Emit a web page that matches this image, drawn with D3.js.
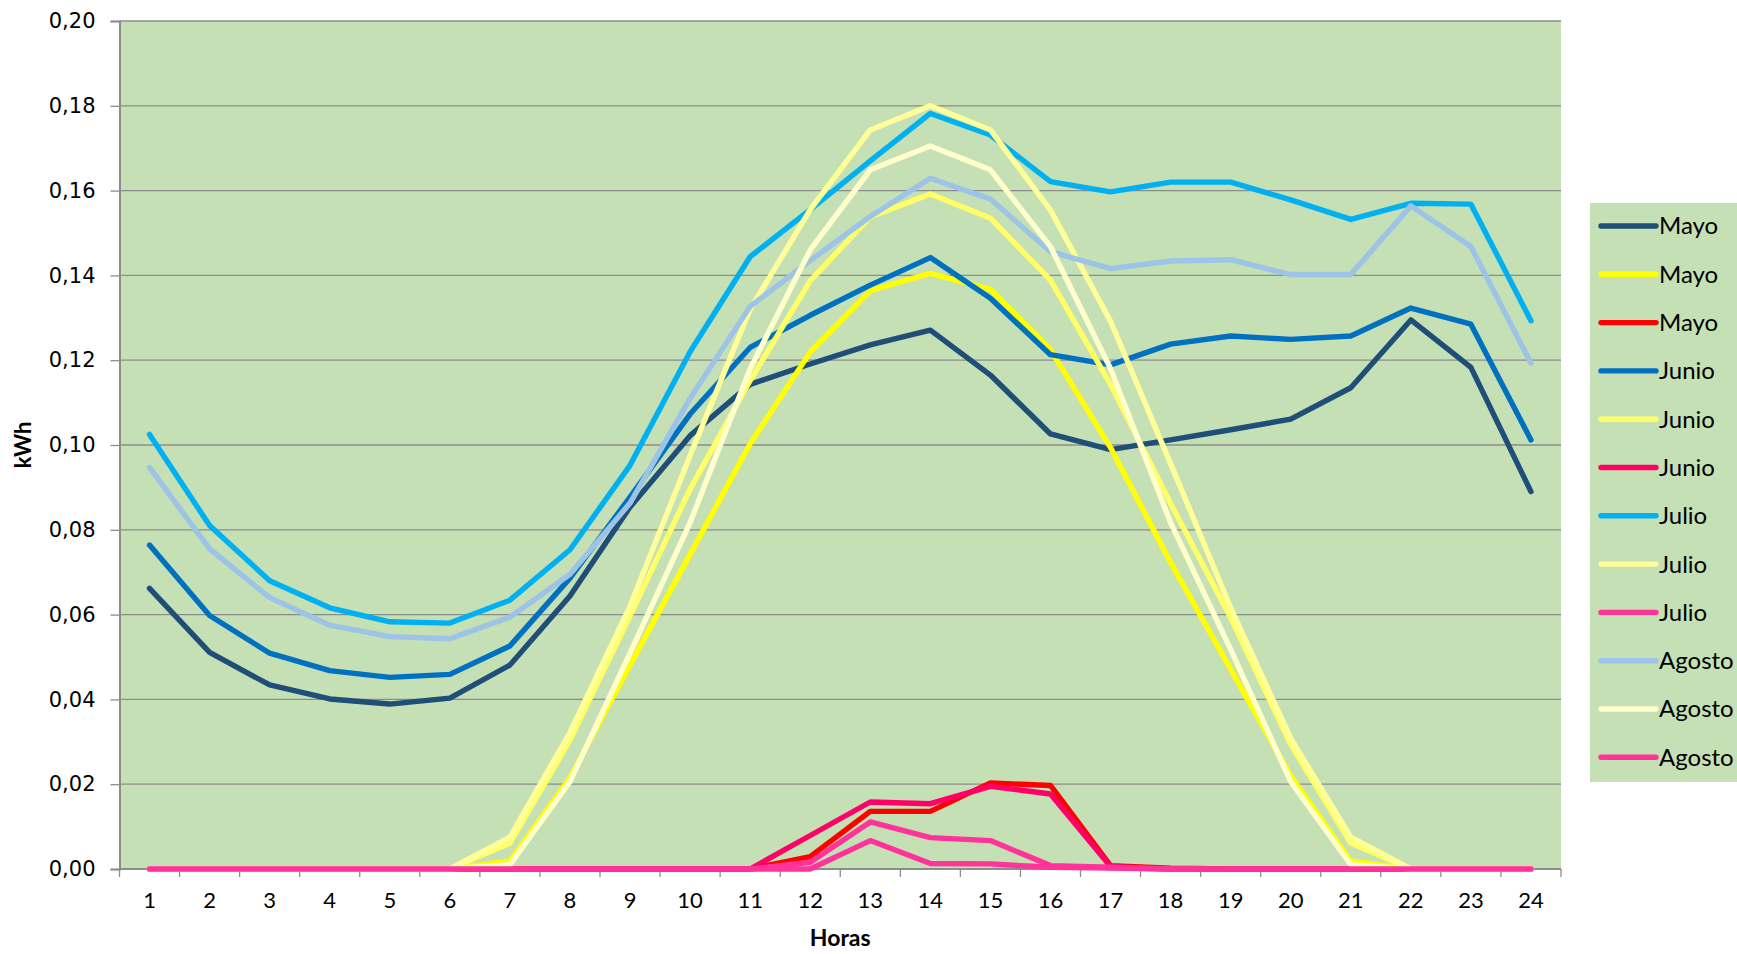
<!DOCTYPE html>
<html>
<head>
<meta charset="utf-8">
<script src="https://cdn.jsdelivr.net/npm/d3@7"></script>
<style>
  html, body { margin: 0; padding: 0; background: #ffffff; }
  svg { display: block; }
</style>
</head>
<body>
<svg id="chart" width="1737" height="954"></svg>
<script>
// ---------- data ----------
const hours = [1,2,3,4,5,6,7,8,9,10,11,12,13,14,15,16,17,18,19,20,21,22,23,24];
const yTicks = [0, 0.02, 0.04, 0.06, 0.08, 0.10, 0.12, 0.14, 0.16, 0.18, 0.20];

const seriesNames = ["Mayo","Mayo","Mayo","Junio","Junio","Junio","Julio","Julio","Julio","Agosto","Agosto","Agosto"];
const seriesColors = ["#1F4E79","#FFFF00","#FF0000","#0070C0","#FFFF66","#FF0066","#00B0F0","#FFFF99","#FF3399","#9DC3E6","#FFFFCC","#FF3399"];

const mayo1   = [0.0662,0.0511,0.0434,0.0401,0.0389,0.0403,0.0481,0.0644,0.0854,0.1022,0.1143,0.1191,0.1236,0.1271,0.1165,0.1026,0.0989,0.1012,0.1036,0.1061,0.1135,0.1295,0.1183,0.0890];
const mayo2   = [0,0,0,0,0,0,0.0019,0.0215,0.0481,0.0742,0.1003,0.1219,0.1364,0.1405,0.1367,0.1225,0.0994,0.0723,0.0471,0.0220,0.0019,0,0,0];
const mayo3   = [0,0,0,0,0,0,0,0,0,0,0,0.0029,0.0136,0.0136,0.0203,0.0197,0.0008,0.0002,0,0,0,0,0,0];
const junio1  = [0.0764,0.0598,0.0509,0.0468,0.0452,0.0459,0.0526,0.0686,0.0877,0.1073,0.1230,0.1306,0.1377,0.1442,0.1346,0.1213,0.1189,0.1238,0.1257,0.1249,0.1257,0.1323,0.1285,0.1012];
const junio2  = [0,0,0,0,0,0,0.0061,0.0304,0.0597,0.0896,0.1152,0.1387,0.1538,0.1592,0.1535,0.1389,0.1143,0.0862,0.0593,0.0294,0.0061,0,0,0];
const junio3  = [0,0,0,0,0,0,0,0,0,0,0,0.0079,0.0158,0.0154,0.0195,0.0177,0.0006,0,0,0,0,0,0,0];
const julio1  = [0.1025,0.0810,0.0680,0.0616,0.0583,0.0580,0.0634,0.0753,0.0952,0.1220,0.1444,0.1555,0.1670,0.1782,0.1731,0.1621,0.1597,0.1620,0.1620,0.1578,0.1532,0.1570,0.1568,0.1293];
const julio2  = [0,0,0,0,0,0,0.0075,0.0322,0.0620,0.0975,0.1320,0.1555,0.1743,0.1800,0.1743,0.1554,0.1292,0.0956,0.0616,0.0308,0.0075,0,0,0];
const julio3  = [0,0,0,0,0,0,0,0,0,0,0,0.0016,0.0111,0.0074,0.0067,0.0008,0.0004,0,0,0,0,0,0,0];
const agosto1 = [0.0947,0.0755,0.0640,0.0575,0.0548,0.0543,0.0594,0.0695,0.0863,0.1110,0.1327,0.1435,0.1539,0.1629,0.1580,0.1456,0.1416,0.1434,0.1437,0.1402,0.1402,0.1564,0.1468,0.1193];
const agosto2 = [0,0,0,0,0,0,0.0010,0.0206,0.0509,0.0817,0.1180,0.1460,0.1649,0.1705,0.1649,0.1468,0.1180,0.0817,0.0518,0.0206,0.0010,0,0,0];
const agosto3 = [0,0,0,0,0,0,0,0,0,0,0,0,0.0067,0.0013,0.0012,0.0004,0.0002,0,0,0,0,0,0,0];

const seriesValues = [mayo1, mayo2, mayo3, junio1, junio2, junio3, julio1, julio2, julio3, agosto1, agosto2, agosto3];

// ---------- layout ----------
const plot = { left: 119.5, right: 1561, top: 21, bottom: 869 };
const svg = d3.select("#chart");

const x = d3.scaleBand().domain(hours).range([plot.left, plot.right]).paddingInner(0).paddingOuter(0);
const xc = h => x(h) + x.bandwidth() / 2;
const y = d3.scaleLinear().domain([0, 0.20]).range([plot.bottom, plot.top]);

const locale = d3.formatLocale({ decimal: ",", thousands: ".", grouping: [3], currency: ["", "€"] });
const fmt = locale.format(".2f");

// plot background
svg.append("rect")
  .attr("x", plot.left).attr("y", plot.top)
  .attr("width", plot.right - plot.left).attr("height", plot.bottom - plot.top)
  .attr("fill", "#C5E0B4");

// gridlines
svg.append("g").selectAll("line").data(yTicks.filter(d => d > 0)).join("line")
  .attr("x1", plot.left).attr("x2", plot.right)
  .attr("y1", d => y(d)).attr("y2", d => y(d))
  .attr("stroke", "#8c8c8c").attr("stroke-width", 1.3);

// y axis
const yAxis = d3.axisLeft(y).tickValues(yTicks).tickFormat(fmt).tickSize(9).tickPadding(15);
const gy = svg.append("g").attr("transform", `translate(${plot.left},0)`).call(yAxis);
gy.select(".domain").attr("stroke", "#8c8c8c").attr("stroke-width", 2);
gy.selectAll(".tick line").attr("stroke", "#8c8c8c").attr("stroke-width", 1.3);
gy.selectAll(".tick text")
  .attr("font-family", "'DejaVu Sans', Verdana, sans-serif")
  .attr("font-size", 21).attr("fill", "#000");

// x axis (labels centered in bands, ticks at band boundaries)
const xAxis = d3.axisBottom(x).tickSize(0).tickPadding(23);
const gx = svg.append("g").attr("transform", `translate(0,${plot.bottom})`).call(xAxis);
gx.select(".domain").remove();
gx.selectAll(".tick text")
  .attr("font-family", "Lato, 'Open Sans', sans-serif")
  .attr("font-size", 22).attr("fill", "#000");
svg.append("line")
  .attr("x1", plot.left).attr("x2", plot.right)
  .attr("y1", plot.bottom).attr("y2", plot.bottom)
  .attr("stroke", "#8c8c8c").attr("stroke-width", 2);
const boundaries = hours.map(h => x(h)).concat([x(hours[hours.length - 1]) + x.bandwidth()]);
svg.append("g").selectAll("line").data(boundaries).join("line")
  .attr("x1", d => d).attr("x2", d => d)
  .attr("y1", plot.bottom).attr("y2", plot.bottom + 8)
  .attr("stroke", "#8c8c8c").attr("stroke-width", 1.3);

// axis titles
svg.append("text")
  .attr("x", (plot.left + plot.right) / 2).attr("y", 946)
  .attr("text-anchor", "middle")
  .attr("font-family", "Lato, 'Open Sans', sans-serif")
  .attr("font-weight", "bold").attr("font-size", 23)
  .text("Horas");
svg.append("text")
  .attr("transform", `translate(31,${(plot.top + plot.bottom) / 2}) rotate(-90)`)
  .attr("text-anchor", "middle")
  .attr("font-family", "Lato, 'Open Sans', sans-serif")
  .attr("font-weight", "bold").attr("font-size", 22)
  .text("kWh");

// lines
const line = d3.line().x((d, i) => xc(hours[i])).y(d => y(d));
svg.append("g").selectAll("path").data(seriesValues).join("path")
  .attr("d", d => line(d))
  .attr("fill", "none")
  .attr("stroke", (d, i) => seriesColors[i])
  .attr("stroke-width", 5.4)
  .attr("stroke-linejoin", "round")
  .attr("stroke-linecap", "round");

// legend
const legend = svg.append("g");
legend.append("rect")
  .attr("x", 1590).attr("y", 203).attr("width", 160).attr("height", 579)
  .attr("fill", "#C5E0B4");
const items = legend.selectAll("g.item").data(seriesNames).join("g")
  .attr("class", "item")
  .attr("transform", (d, i) => `translate(0,${226 + i * 48.3})`);
items.append("line")
  .attr("x1", 1601).attr("x2", 1656).attr("y1", 0).attr("y2", 0)
  .attr("stroke", (d, i) => seriesColors[i])
  .attr("stroke-width", 5.4).attr("stroke-linecap", "round");
items.append("text")
  .attr("x", 1659).attr("y", 0).attr("dy", "0.35em")
  .attr("font-family", "Lato, 'Open Sans', sans-serif")
  .attr("font-size", 24).attr("fill", "#000")
  .text(d => d);
</script>
</body>
</html>
